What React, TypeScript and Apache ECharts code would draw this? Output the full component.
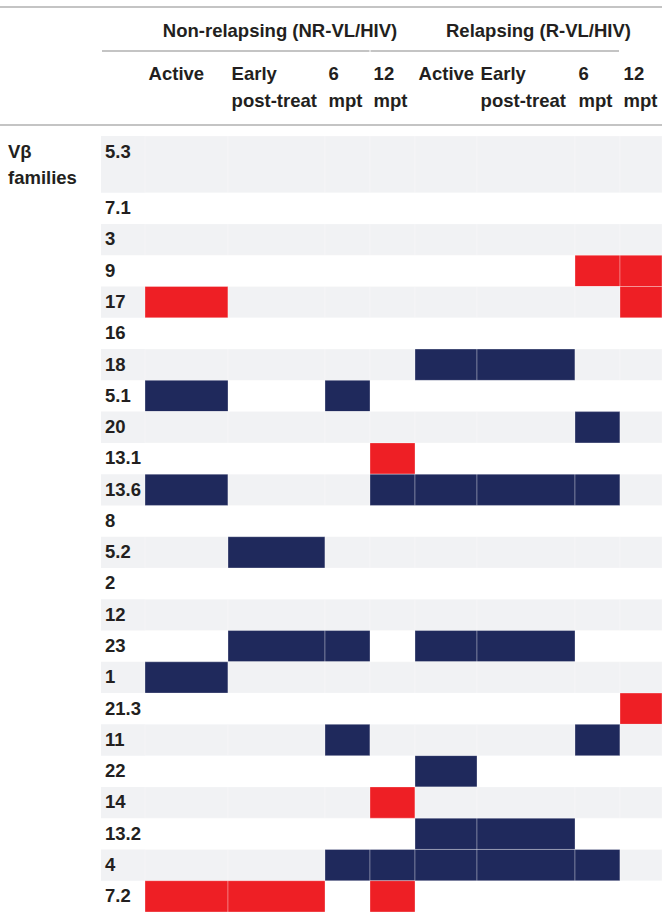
import React, { useEffect, useRef } from "react";
import * as echarts from "echarts";

// ---------- data ----------
const vbFamilies = ["5.3", "7.1", "3", "9", "17", "16", "18", "5.1", "20", "13.1", "13.6", "8", "5.2", "2", "12", "23", "1", "21.3", "11", "22", "14", "13.2", "4", "7.2"];
const groupLabels = ["Non-relapsing (NR-VL/HIV)", "Relapsing (R-VL/HIV)"];
const timepointLabels = [["Active"], ["Early", "post-treat"], ["6", "mpt"], ["12", "mpt"], ["Active"], ["Early", "post-treat"], ["6", "mpt"], ["12", "mpt"]];
const rowAxisTitle = ["Vβ", "families"];

// 1 = expanded (red), -1 = contracted (navy), 0 = no change
const nrActive = [0, 0, 0, 0, 1, 0, 0, -1, 0, 0, -1, 0, 0, 0, 0, 0, -1, 0, 0, 0, 0, 0, 0, 1];
const nrEarly = [0, 0, 0, 0, 0, 0, 0, 0, 0, 0, 0, 0, -1, 0, 0, -1, 0, 0, 0, 0, 0, 0, 0, 1];
const nr6mpt = [0, 0, 0, 0, 0, 0, 0, -1, 0, 0, 0, 0, 0, 0, 0, -1, 0, 0, -1, 0, 0, 0, -1, 0];
const nr12mpt = [0, 0, 0, 0, 0, 0, 0, 0, 0, 1, -1, 0, 0, 0, 0, 0, 0, 0, 0, 0, 1, 0, -1, 1];
const rActive = [0, 0, 0, 0, 0, 0, -1, 0, 0, 0, -1, 0, 0, 0, 0, -1, 0, 0, 0, -1, 0, -1, -1, 0];
const rEarly = [0, 0, 0, 0, 0, 0, -1, 0, 0, 0, -1, 0, 0, 0, 0, -1, 0, 0, 0, 0, 0, -1, -1, 0];
const r6mpt = [0, 0, 0, 1, 0, 0, 0, 0, -1, 0, -1, 0, 0, 0, 0, 0, 0, 0, -1, 0, 0, 0, -1, 0];
const r12mpt = [0, 0, 0, 1, 1, 0, 0, 0, 0, 0, 0, 0, 0, 0, 0, 0, 0, 1, 0, 0, 0, 0, 0, 0];
const columnsData = [nrActive, nrEarly, nr6mpt, nr12mpt, rActive, rEarly, r6mpt, r12mpt];

// ---------- layout / style ----------
const W = 662;
const H = 912;
const GRID_LEFT = 101;
const GRID_TOP = 136;
const COL_EDGES = [0, 44, 127, 224, 269, 314, 376, 474, 519, 561];
const FIRST_ROW = 1.813;
const rowTop = (i: number) => (i === 0 ? 0 : FIRST_ROW + i - 1);
const rowHeight = (i: number) => (i === 0 ? FIRST_ROW : 1);
const Y_MAX = FIRST_ROW + vbFamilies.length - 1;

const RED = "#ee1f25";
const NAVY = "#1f295c";
const BAND = "#f1f2f4";
const TEXT = "#231f20";
const RULE = "#8a8a8a";
const FONT = 'bold 18.5px "Liberation Sans", Arial, Helvetica, sans-serif';

function txt(text: string, x: number, y: number, align: string = "left") {
  return {
    type: "text",
    x,
    y,
    silent: true,
    style: {
      text,
      fill: TEXT,
      font: FONT,
      align,
      textAlign: align,
      verticalAlign: "middle",
      textVerticalAlign: "middle",
    },
  };
}

function line(x1: number, y1: number, x2: number, y2: number) {
  return {
    type: "line",
    silent: true,
    shape: { x1, y1, x2, y2 },
    style: { stroke: RULE, lineWidth: 1.2 },
  };
}

export default function App() {
  const ref = useRef<HTMLDivElement>(null);

  useEffect(() => {
    if (!ref.current) return;
    const chart = echarts.init(ref.current, undefined, { renderer: "svg", width: W, height: H });

    const cellData: number[][] = [];
    columnsData.forEach((col, c) => col.forEach((v, r) => cellData.push([c, r, v])));

    const graphics: any[] = [];
    graphics.push(line(0, 7, W, 7));
    graphics.push(line(GRID_LEFT + 1, 51, 369.5, 51));
    graphics.push(line(370.5, 51, 619, 51));
    graphics.push(line(0, 125, W, 125));
    // group headers, centred on their column span
    const spans = [
      [COL_EDGES[1], COL_EDGES[5]],
      [COL_EDGES[5], COL_EDGES[9]],
    ];
    groupLabels.forEach((g, i) => {
      graphics.push(txt(g, GRID_LEFT + (spans[i][0] + spans[i][1]) / 2, 30.4, "center"));
    });
    // time-point headers
    timepointLabels.forEach((lines, i) => {
      const x = GRID_LEFT + COL_EDGES[i + 1] + 3.6;
      lines.forEach((l, k) => graphics.push(txt(l, x, 73.8 + k * 26.7)));
    });
    rowAxisTitle.forEach((l, k) => graphics.push(txt(l, 8, 151.5 + k * 25.5)));

    const option: any = {
      animation: false,
      backgroundColor: "#ffffff",
      grid: { left: GRID_LEFT, right: W - GRID_LEFT - COL_EDGES[COL_EDGES.length - 1], top: GRID_TOP, bottom: 0 },
      xAxis: { type: "value", min: 0, max: COL_EDGES[COL_EDGES.length - 1], show: false },
      yAxis: { type: "value", min: 0, max: Y_MAX, inverse: true, show: false },
      graphic: { elements: graphics },
      series: [
        {
          type: "custom",
          silent: true,
          data: vbFamilies.map((name, i) => ({ name, value: [0, i] })),
          renderItem: (_p: any, api: any) => {
            const r = api.value(1);
            const tl = api.coord([COL_EDGES[0], rowTop(r)]);
            const br = api.coord([COL_EDGES[1], rowTop(r) + rowHeight(r)]);
            const children: any[] = [];
            if (r % 2 === 0) {
              children.push({
                type: "rect",
                shape: { x: tl[0], y: tl[1], width: br[0] - tl[0], height: br[1] - tl[1] },
                style: { fill: BAND },
              });
            }
            children.push({
              type: "text",
              x: tl[0] + 4,
              y: tl[1] + 15,
              style: {
                text: vbFamilies[r],
                fill: TEXT,
                font: FONT,
                align: "left",
                textAlign: "left",
                verticalAlign: "middle",
                textVerticalAlign: "middle",
              },
            });
            return { type: "group", children };
          },
        },
        {
          type: "custom",
          silent: true,
          data: cellData,
          renderItem: (_p: any, api: any) => {
            const c = api.value(0);
            const r = api.value(1);
            const v = api.value(2);
            const tl = api.coord([COL_EDGES[c + 1], rowTop(r)]);
            const br = api.coord([COL_EDGES[c + 2], rowTop(r) + rowHeight(r)]);
            let fill: string | null = null;
            let stroke = "rgba(255,255,255,0.3)";
            let lw = 1;
            if (v === 1) fill = RED;
            else if (v === -1) fill = NAVY;
            else if (r % 2 === 0) {
              fill = BAND;
              stroke = "rgba(255,255,255,0.35)";
              lw = 0.8;
            }
            if (!fill) return { type: "group", children: [] };
            return {
              type: "rect",
              shape: { x: tl[0], y: tl[1], width: br[0] - tl[0], height: br[1] - tl[1] },
              style: { fill, stroke, lineWidth: lw },
            };
          },
        },
      ],
    };
    chart.setOption(option);
    return () => chart.dispose();
  }, []);

  return (
    <div
      ref={ref}
      style={{ position: "fixed", left: 0, top: 0, width: W, height: H, background: "#ffffff" }}
    />
  );
}
